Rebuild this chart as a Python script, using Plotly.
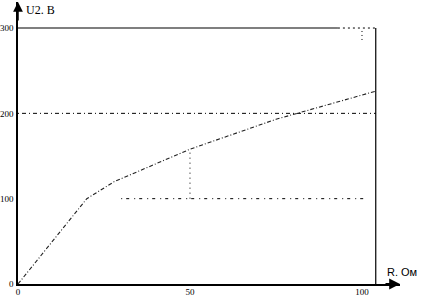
import plotly.graph_objects as go

# Data
R = [0, 20, 28, 35.5, 50, 75, 93, 104]
U2 = [0, 100, 120, 133, 158, 193, 214, 226]

x_ticks = [0, 50, 100]
y_ticks = [0, 100, 200, 300]

x_max = 104      # right frame
y_top = 300      # top frame
level_mid = 100  # horizontal reference at 100 V
level_hi = 200   # horizontal reference at 200 V
R_mark = 50      # vertical reference
U_mark = 158

fig = go.Figure()
fig.add_trace(go.Scatter(x=R, y=U2, mode="lines",
                         line=dict(color="#222", width=1.1, dash="4px,2px,1px,2px"),
                         hoverinfo="skip", showlegend=False))

shapes = []
# frame: right and top
shapes.append(dict(type="line", xref="x", yref="y", x0=x_max, x1=x_max, y0=0, y1=y_top,
                   line=dict(color="black", width=1.2)))
shapes.append(dict(type="line", xref="x", yref="y", x0=0, x1=93, y0=y_top, y1=y_top,
                   line=dict(color="black", width=1.2)))
shapes.append(dict(type="line", xref="x", yref="y", x0=93, x1=x_max, y0=y_top, y1=y_top,
                   line=dict(color="black", width=1, dash="2px,3px")))
shapes.append(dict(type="line", xref="x", yref="y", x0=100, x1=100, y0=286, y1=y_top,
                   line=dict(color="black", width=1, dash="1px,3px")))
# reference lines
shapes.append(dict(type="line", xref="x", yref="y", x0=0, x1=x_max, y0=level_hi, y1=level_hi,
                   line=dict(color="black", width=1, dash="1px,3px,4px,3px")))
shapes.append(dict(type="line", xref="x", yref="y", x0=30, x1=101, y0=level_mid, y1=level_mid,
                   line=dict(color="black", width=1, dash="1px,4px,3px,5px")))
shapes.append(dict(type="line", xref="x", yref="y", x0=R_mark, x1=R_mark, y0=level_mid, y1=U_mark,
                   line=dict(color="black", width=1, dash="1px,4px")))
fig.update_layout(shapes=shapes)

fig.add_annotation(x=0, y=1, xref="x", yref="paper", ax=0, ay=20,
                   showarrow=True, arrowhead=2, arrowsize=1.3, arrowwidth=1.5, arrowcolor="black", text="")
fig.add_annotation(x=1, y=0, xref="paper", yref="y", ax=-16, ay=0,
                   showarrow=True, arrowhead=2, arrowsize=1.2, arrowwidth=1.8, arrowcolor="black", text="")
fig.add_annotation(x=0, y=1, xref="x", yref="paper", xanchor="left", yanchor="top", xshift=6, yshift=1,
                   text="U2. B", showarrow=False,
                   font=dict(family="Liberation Serif", size=12, color="black"))
fig.add_annotation(x=1, y=0, xref="paper", yref="y", xanchor="right", yanchor="bottom", xshift=19, yshift=4,
                   text="R. Ом", showarrow=False,
                   font=dict(family="Liberation Sans", size=11, color="black"))

fig.update_xaxes(range=[0, 111.05], tickvals=x_ticks, ticktext=[str(v) for v in x_ticks],
                 showgrid=False, zeroline=False, showline=True, linecolor="black", linewidth=1.5,
                 ticks="", tickfont=dict(family="Liberation Serif", size=9, color="black"),
                 ticklabelstandoff=-2, automargin=False, fixedrange=True)
fig.update_yaxes(range=[0, 330.5], tickvals=y_ticks, ticktext=[str(v) for v in y_ticks],
                 showgrid=False, zeroline=False, showline=True, linecolor="black", linewidth=1.5,
                 ticks="", tickfont=dict(family="Liberation Serif", size=9, color="black"),
                 ticklabelstandoff=1, automargin=False, fixedrange=True)

fig.update_layout(width=421, height=297, margin=dict(l=18, r=21, t=2, b=13),
                  paper_bgcolor="white", plot_bgcolor="white")

fig.write_html("out.html", config={"displayModeBar": False},
               post_script="document.body.style.margin='0';")
